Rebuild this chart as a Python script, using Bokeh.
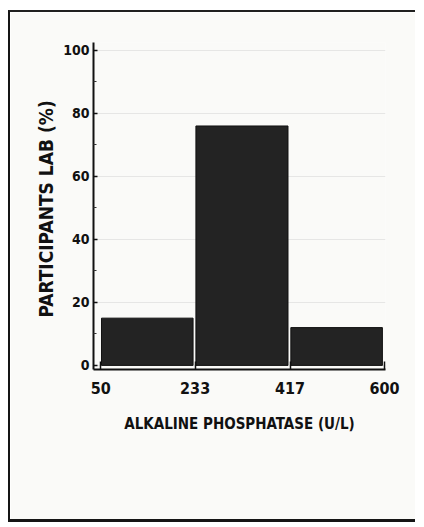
from bokeh.plotting import figure
from bokeh.models import FixedTicker, Range1d
from bokeh.embed import file_html
from bokeh.resources import INLINE

# Data
bin_edges = [50, 233, 417, 600]
percent = [15, 76, 12]
y_ticks = [0, 20, 40, 60, 80, 100]
x_label = "ALKALINE PHOSPHATASE (U/L)"
y_label = "PARTICIPANTS LAB  (%)"

FONT = "DejaVu Sans Condensed"

p = figure(
    frame_width=292, frame_height=327,
    x_range=Range1d(36, 602), y_range=Range1d(-1.3, 102.5),
    output_backend="svg", toolbar_location=None,
    min_border_left=83, min_border_right=30, min_border_top=30, min_border_bottom=150,
    background_fill_color="#fafaf8", border_fill_color="#fafaf8",
)
p.styles = {"margin-left": "8px", "margin-top": "10px",
            "border-left": "2px solid #151515", "border-top": "2px solid #202020",
            "border-bottom": "3px solid #151515"}
p.outline_line_color = None

gap_l, gap_r = 1.5, 4
lefts = [e + gap_l for e in bin_edges[:-1]]
rights = [e - gap_r for e in bin_edges[1:]]
p.quad(left=lefts, right=rights, bottom=[0] * len(percent), top=percent,
       fill_color="#232323", line_color="#111111", line_width=1)

# axes
p.xaxis.ticker = FixedTicker(ticks=bin_edges)
p.yaxis.ticker = FixedTicker(ticks=y_ticks, minor_ticks=[10, 30, 50, 70, 90])
for ax in (p.xaxis, p.yaxis):
    ax.axis_line_color = "#111111"
    ax.axis_line_width = 2
    ax.major_tick_line_color = "#111111"
    ax.major_tick_line_width = 1.5
    ax.major_tick_out = 0
    ax.minor_tick_out = 0
    ax.major_label_text_font = FONT
    ax.major_label_text_font_style = "bold"
    ax.major_label_text_color = "#111111"
    ax.axis_label_text_font = FONT
    ax.axis_label_text_font_style = "bold"
    ax.axis_label_text_color = "#111111"

p.xaxis.major_tick_in = 8
p.xaxis.minor_tick_line_color = None
p.xaxis.major_label_standoff = 12
p.xaxis.major_label_text_font_size = "16px"
p.xaxis.axis_label = x_label
p.xaxis.axis_label_text_font_size = "15px"
p.xaxis.axis_label_standoff = 18

p.yaxis.major_tick_in = 4
p.yaxis.minor_tick_in = 3
p.yaxis.minor_tick_line_color = "#333333"
p.yaxis.major_label_standoff = 4
p.yaxis.major_label_text_font_size = "14px"
p.yaxis.axis_label = y_label
p.yaxis.axis_label_text_font_size = "19px"
p.yaxis.axis_label_standoff = 3

p.xgrid.grid_line_color = None
p.ygrid.grid_line_color = "#d9d9d9"
p.ygrid.grid_line_width = 1
p.ygrid.grid_line_alpha = 0.6

open("out.html", "w").write(file_html(p, INLINE))
